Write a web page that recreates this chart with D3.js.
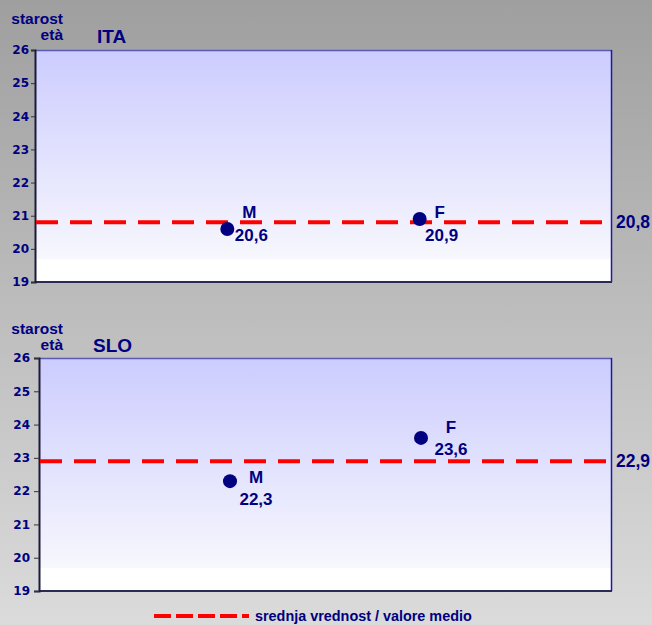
<!DOCTYPE html>
<html lang="en">
<head>
<meta charset="UTF-8">
<title>Starost / età - ITA, SLO</title>
<script src="https://d3js.org/d3.v7.min.js"></script>
<style>
    body { margin: 0; overflow: hidden; }
    text { font-family: "Liberation Sans", Arial, sans-serif; font-weight: bold; fill: #000080; }
</style>
</head>
<body>
<svg id="chart"></svg>
<script>
    // data
    var panels = ["ITA", "SLO"];
    var categories = ["M", "F"];
    var itaValues = [20.6, 20.9];
    var sloValues = [22.3, 23.6];
    var means = [20.8, 22.9];
    var yTicks = [19, 20, 21, 22, 23, 24, 25, 26];
    var yTitle = ["starost", "età"];
    var legendLabel = "srednja vrednost / valore medio";

    var width = 652, height = 625;
    var svg = d3.select("#chart").attr("width", width).attr("height", height);
    var defs = svg.append("defs");

    var bg = defs.append("linearGradient").attr("id", "bg").attr("x1", 0).attr("y1", 0).attr("x2", 0).attr("y2", 1);
    bg.append("stop").attr("offset", 0).attr("stop-color", "#9f9f9f");
    bg.append("stop").attr("offset", 1).attr("stop-color", "#dbdbdb");

    var pg = defs.append("linearGradient").attr("id", "plotbg").attr("x1", 0).attr("y1", 0).attr("x2", 0).attr("y2", 1);
    pg.append("stop").attr("offset", 0).attr("stop-color", "#ccccff");
    pg.append("stop").attr("offset", 0.9).attr("stop-color", "#f7f7fd");
    pg.append("stop").attr("offset", 0.9).attr("stop-color", "#ffffff");
    pg.append("stop").attr("offset", 1).attr("stop-color", "#ffffff");

    svg.append("rect").attr("width", width).attr("height", height).attr("fill", "url(#bg)");

    var fmt = function (v) { return d3.format(".1f")(v).replace(".", ","); };

    // layout for each panel
    var layout = [
        { left: 35, right: 612, top: 50, bottom: 282, titleX: 97, titleY: 43, yTitleY: 24, tick: 4, pad: 2,
          letterOff: [[22, -11], [20, -1]], valueOff: [[24, 12], [22, 22]] },
        { left: 39, right: 612, top: 358, bottom: 591, titleX: 93, titleY: 352, yTitleY: 334, tick: 5, pad: 4,
          letterOff: [[26, 2], [30, -5]], valueOff: [[26, 24], [30, 17]] }
    ];
    var seriesValues = [itaValues, sloValues];

    panels.forEach(function (name, i) {
        var L = layout[i];
        var g = svg.append("g");

        var x = d3.scalePoint().domain(categories).range([L.left, L.right]).padding(1);
        var y = d3.scaleLinear().domain([19, 26]).range([L.bottom, L.top]);

        g.append("rect")
            .attr("x", L.left).attr("y", L.top)
            .attr("width", L.right - L.left).attr("height", L.bottom - L.top)
            .attr("fill", "url(#plotbg)");

        // frame
        g.append("line").attr("x1", L.left).attr("x2", L.right).attr("y1", L.top + 0.5).attr("y2", L.top + 0.5)
            .attr("stroke", "#5a5ab0").attr("stroke-width", 1.5);
        g.append("line").attr("x1", L.right - 0.5).attr("x2", L.right - 0.5).attr("y1", L.top).attr("y2", L.bottom)
            .attr("stroke", "#1a1aa0").attr("stroke-width", 1.5);
        g.append("line").attr("x1", L.left).attr("x2", L.right).attr("y1", L.bottom).attr("y2", L.bottom)
            .attr("stroke", "#2a2a55").attr("stroke-width", 2);

        // y axis
        var axis = g.append("g").attr("transform", "translate(" + L.left + ",0)")
            .call(d3.axisLeft(y).tickValues(yTicks).tickFormat(d3.format("d")).tickSize(L.tick).tickPadding(L.pad));
        axis.select(".domain").attr("stroke", "#1a1a3a").attr("stroke-width", 2);
        axis.selectAll(".tick line").attr("stroke", "#333");
        axis.selectAll(".tick text").attr("fill", "#000080").style("font-size", "12px")
            .style("font-family", "'DejaVu Sans', Arial, sans-serif").style("font-weight", "bold");

        // titles
        g.append("text").attr("x", 63).attr("y", L.yTitleY).attr("text-anchor", "end")
            .style("font-size", "15.5px").text(yTitle[0]);
        g.append("text").attr("x", 63).attr("y", L.yTitleY + 16).attr("text-anchor", "end")
            .style("font-size", "15.5px").text(yTitle[1]);
        g.append("text").attr("x", L.titleX).attr("y", L.titleY)
            .style("font-size", "19px").text(name);

        // mean line
        g.append("line")
            .attr("x1", L.left + 1).attr("x2", L.right - 1)
            .attr("y1", y(means[i])).attr("y2", y(means[i]))
            .attr("stroke", "#ff0000").attr("stroke-width", 4)
            .attr("stroke-dasharray", "22,12");
        g.append("text").attr("x", L.right + 4).attr("y", y(means[i]) + 6)
            .style("font-size", "17.5px").text(fmt(means[i]));

        // points
        var vals = seriesValues[i];
        categories.forEach(function (c, j) {
            var cx = x(c), cy = y(vals[j]);
            g.append("circle").attr("cx", cx).attr("cy", cy).attr("r", 7).attr("fill", "#000080");
            g.append("text").attr("x", cx + L.letterOff[j][0]).attr("y", cy + L.letterOff[j][1])
                .attr("text-anchor", "middle").style("font-size", "17px").text(c);
            g.append("text").attr("x", cx + L.valueOff[j][0]).attr("y", cy + L.valueOff[j][1])
                .attr("text-anchor", "middle").style("font-size", "17px").text(fmt(vals[j]));
        });
    });

    // legend
    svg.append("line").attr("x1", 154).attr("x2", 249).attr("y1", 616).attr("y2", 616)
        .attr("stroke", "#ff0000").attr("stroke-width", 4).attr("stroke-dasharray", "17,5");
    svg.append("text").attr("x", 255).attr("y", 621).style("font-size", "14.4px").text(legendLabel);
</script>
</body>
</html>
